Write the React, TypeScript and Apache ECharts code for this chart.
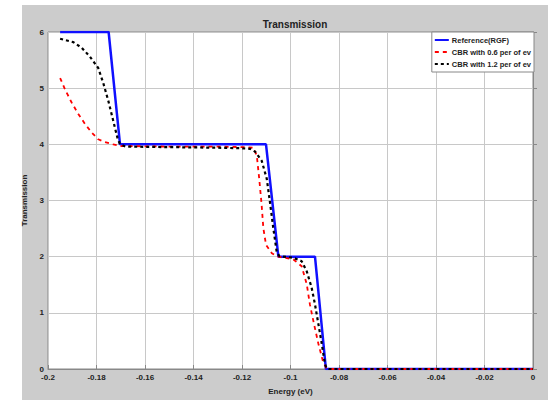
import React, { useEffect, useRef } from "react";
import * as echarts from "echarts";

const xTicks = [-0.2, -0.18, -0.16, -0.14, -0.12, -0.1, -0.08, -0.06, -0.04, -0.02, 0];
const seriesNames = ["Reference(RGF)", "CBR with 0.6 per of ev", "CBR with 1.2 per of ev"];

const referenceData: [number, number][] = [
  [-0.195, 6], [-0.175, 6], [-0.1703, 4], [-0.1101, 4], [-0.105, 2],
  [-0.0899, 2], [-0.0854, 0], [0, 0],
];

const cbr06Data: [number, number][] = [
  [-0.195, 5.18], [-0.193, 4.98], [-0.1902, 4.74], [-0.1875, 4.54], [-0.1847, 4.36],
  [-0.182, 4.21], [-0.1793, 4.09], [-0.1765, 4.04], [-0.1731, 4.0], [-0.17, 3.97],
  [-0.15, 3.96], [-0.13, 3.96], [-0.12, 3.95], [-0.1153, 3.94], [-0.1139, 3.8],
  [-0.1129, 3.39], [-0.1119, 2.92], [-0.1112, 2.51], [-0.1101, 2.21], [-0.1077, 2.06],
  [-0.1057, 2.01], [-0.105, 2.0], [-0.0988, 1.95], [-0.0954, 1.83], [-0.0933, 1.51],
  [-0.092, 1.15], [-0.0903, 0.8], [-0.0885, 0.45], [-0.0867, 0.15], [-0.0853, 0.02],
  [-0.084, 0], [0, 0],
];

const cbr12Data: [number, number][] = [
  [-0.195, 5.88], [-0.1896, 5.82], [-0.1861, 5.72], [-0.1827, 5.56], [-0.1793, 5.36],
  [-0.1772, 5.09], [-0.1751, 4.77], [-0.1731, 4.42], [-0.1714, 4.12], [-0.1703, 4.0],
  [-0.168, 3.96], [-0.15, 3.95], [-0.13, 3.94], [-0.12, 3.93], [-0.1167, 3.92],
  [-0.1146, 3.87], [-0.1119, 3.71], [-0.1098, 3.39], [-0.1085, 2.98], [-0.1071, 2.51],
  [-0.1057, 2.09], [-0.1046, 2.01], [-0.0988, 1.98], [-0.0954, 1.92], [-0.0933, 1.74],
  [-0.0913, 1.45], [-0.0899, 1.15], [-0.0885, 0.8], [-0.0871, 0.45], [-0.0858, 0.09],
  [-0.0851, 0.01], [-0.084, 0], [0, 0],
];

const FONT = "Liberation Sans, Arial, sans-serif";

export default function App() {
  const ref = useRef<HTMLDivElement>(null);
  useEffect(() => {
    document.body.style.margin = "0";
    const chart = echarts.init(ref.current!, null, { renderer: "svg" });
    chart.setOption({
      animation: false,
      backgroundColor: "#ffffff",
      textStyle: { fontFamily: FONT },
      graphic: [
        {
          type: "rect",
          z: -10,
          silent: true,
          shape: { x: 22, y: 5, width: 526, height: 395 },
          style: { fill: "#cccccc" },
        },
      ],
      title: {
        text: "Transmission",
        left: 290,
        top: 14,
        textAlign: "center",
        textStyle: { fontSize: 10, fontWeight: "bold", color: "#222", fontFamily: FONT },
      },
      legend: {
        data: seriesNames,
        orient: "vertical",
        right: 14,
        top: 32,
        align: "left",
        itemWidth: 14,
        itemHeight: 8,
        itemGap: 4,
        padding: [4, 3, 4, 2],
        backgroundColor: "#ffffff",
        borderColor: "#888",
        borderWidth: 1,
        borderRadius: 0,
        itemStyle: { opacity: 0 },
        textStyle: { fontSize: 7.5, fontWeight: "bold", color: "#222", fontFamily: FONT, padding: [0, 0, 0, -2] },
      },
      grid: {
        left: 48,
        right: 15,
        top: 32,
        bottom: 28,
        show: true,
        backgroundColor: "#ffffff",
        borderColor: "#888",
        borderWidth: 1,
      },
      xAxis: {
        type: "value",
        min: -0.2,
        max: 0,
        interval: 0.02,
        name: "Energy (eV)",
        nameLocation: "middle",
        nameGap: 18,
        nameTextStyle: { fontSize: 8, fontWeight: "bold", color: "#222" },
        axisLine: { lineStyle: { color: "#888" } },
        axisTick: { inside: true, length: 4, lineStyle: { color: "#888" } },
        axisLabel: {
          fontSize: 8,
          fontWeight: "bold",
          color: "#222",
          margin: 4,
          formatter: (v: number) => String(parseFloat(v.toFixed(2))),
        },
        splitLine: { show: true, lineStyle: { color: "#c8c8c8", width: 1 } },
      },
      yAxis: {
        type: "value",
        min: 0,
        max: 6,
        interval: 1,
        name: "Transmission",
        nameLocation: "middle",
        nameGap: 12,
        nameRotate: 90,
        nameTextStyle: { fontSize: 8, fontWeight: "bold", color: "#222" },
        axisLine: { show: true, lineStyle: { color: "#888" } },
        axisTick: { show: true, inside: true, length: 4, lineStyle: { color: "#888" } },
        axisLabel: { fontSize: 8, fontWeight: "bold", color: "#222", margin: 4 },
        splitLine: { show: true, lineStyle: { color: "#c8c8c8", width: 1 } },
      },
      series: [
        {
          name: seriesNames[0],
          type: "line",
          data: referenceData,
          symbol: "none",
          z: 2,
          lineStyle: { color: "#1010ff", width: 2.5 },
          itemStyle: { color: "#1010ff" },
        },
        {
          name: seriesNames[1],
          type: "line",
          data: cbr06Data,
          symbol: "none",
          z: 3,
          lineStyle: { color: "#ff0000", width: 1.8, type: [4, 4] },
          itemStyle: { color: "#ff0000" },
        },
        {
          name: seriesNames[2],
          type: "line",
          data: cbr12Data,
          symbol: "none",
          z: 4,
          lineStyle: { color: "#000000", width: 2.2, type: [3, 3] },
          itemStyle: { color: "#000000" },
        },
      ],
    });
    return () => chart.dispose();
  }, []);
  return <div ref={ref} style={{ width: 548, height: 400 }} />;
}
